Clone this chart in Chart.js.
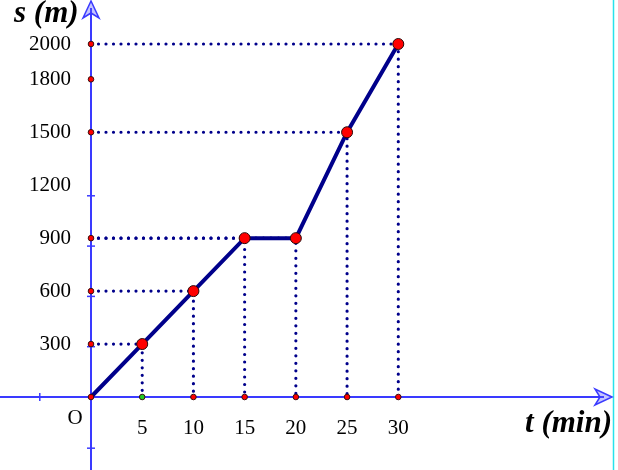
<!DOCTYPE html>
<html><head><meta charset="utf-8">
<script src="https://cdn.jsdelivr.net/npm/chart.js@4"></script>
<style>html,body{margin:0;padding:0;background:#fff}#wrap{width:618px;height:470px}</style>
</head><body><div id="wrap"><canvas id="c" width="618" height="470"></canvas></div>
<script>
// ---- data ----
const times = [0, 5, 10, 15, 20, 25, 30];            // t (min)
const distances = [0, 300, 600, 900, 900, 1500, 2000]; // s (m)
const xTickValues = [5, 10, 15, 20, 25, 30];
const xTickLabels = ['5', '10', '15', '20', '25', '30'];
const yTickValues = [300, 600, 900, 1200, 1500, 1800, 2000];
const yTickLabels = ['300', '600', '900', '1200', '1500', '1800', '2000'];
const yAxisMarks = [300, 600, 900, 1500, 1800, 2000];
const yMinorTicks = [-290, 285, 570, 855, 1140];
const xMinorTicks = [-5];
const xTitle = 't (min)';
const yTitle = 's (m)';
const originLabel = 'O';

// ---- styles ----
const AXIS = 'rgb(58,58,255)';
const NAVY = '#00008B';

const guideSets = [];
for (let i = 1; i < times.length; i++) {
  guideSets.push({
    data: [{x: 0, y: distances[i]}, {x: times[i], y: distances[i]}, {x: times[i], y: 0}],
    showLine: true, pointRadius: 0, borderColor: NAVY, borderWidth: 3.2,
    borderDash: [0, 7.5], borderCapStyle: 'round', order: 2
  });
}
const markPts = times.map(t => ({x: t, y: 0})).concat(yAxisMarks.map(s => ({x: 0, y: s})));

const axesPlugin = {
  id: 'mathAxes',
  beforeDatasetsDraw(chart) {
    const {ctx, scales: {x, y}, width, height} = chart;
    const x0 = x.getPixelForValue(0), y0 = y.getPixelForValue(0);
    ctx.save();
    // right border
    ctx.strokeStyle = 'rgb(40,225,235)'; ctx.lineWidth = 1.5;
    ctx.beginPath(); ctx.moveTo(613.5, 0); ctx.lineTo(613.5, height); ctx.stroke();
    ctx.strokeStyle = AXIS; ctx.lineWidth = 2;
    ctx.beginPath(); ctx.moveTo(0, y0); ctx.lineTo(604, y0); ctx.stroke();
    ctx.beginPath(); ctx.moveTo(x0, height); ctx.lineTo(x0, 8); ctx.stroke();
    ctx.lineWidth = 1.5;
    yMinorTicks.forEach(v => { const p = y.getPixelForValue(v); ctx.beginPath(); ctx.moveTo(x0 - 4, p); ctx.lineTo(x0 + 4, p); ctx.stroke(); });
    xMinorTicks.forEach(v => { const p = x.getPixelForValue(v); ctx.beginPath(); ctx.moveTo(p, y0 - 4); ctx.lineTo(p, y0 + 4); ctx.stroke(); });
    // arrows
    ctx.fillStyle = 'rgba(90,90,255,0.35)'; ctx.lineWidth = 1.5; ctx.lineJoin = 'miter';
    ctx.beginPath(); ctx.moveTo(612, y0); ctx.lineTo(595, y0 - 8); ctx.lineTo(600, y0); ctx.lineTo(595, y0 + 8); ctx.closePath(); ctx.fill(); ctx.stroke();
    ctx.beginPath(); ctx.moveTo(x0, 1); ctx.lineTo(x0 - 8, 18); ctx.lineTo(x0, 13); ctx.lineTo(x0 + 8, 18); ctx.closePath(); ctx.fill(); ctx.stroke();
    ctx.restore();
  },
  afterDatasetsDraw(chart) {
    const {ctx, scales: {x, y}} = chart;
    const x0 = x.getPixelForValue(0);
    ctx.save();
    ctx.fillStyle = '#000';
    ctx.font = '21px "Liberation Serif", "Times New Roman", serif';
    ctx.textBaseline = 'middle';
    ctx.textAlign = 'right';
    yTickValues.forEach((v, i) => ctx.fillText(yTickLabels[i], x0 - 20, y.getPixelForValue(v)));
    ctx.textAlign = 'center';
    xTickValues.forEach((v, i) => ctx.fillText(xTickLabels[i], x.getPixelForValue(v), 428));
    ctx.fillText(originLabel, x0 - 16, 418);
    ctx.font = 'italic bold 31px "Liberation Serif", "Times New Roman", serif';
    ctx.textAlign = 'left';
    ctx.fillText(yTitle, 14, 14);
    ctx.textAlign = 'right';
    ctx.fillText(xTitle, 612, 424);
    ctx.restore();
  }
};

new Chart(document.getElementById('c'), {
  type: 'scatter',
  data: {
    datasets: [
      {
        data: markPts, showLine: false, order: 0,
        pointRadius: 2.8, pointBorderWidth: 1, pointBorderColor: '#3a1010',
        pointBackgroundColor: c => (c.raw && c.raw.x === 5 && c.raw.y === 0) ? '#22cc22' : '#ff0000'
      },
      {
        data: times.map((t, i) => ({x: t, y: distances[i]})), showLine: true, order: 1,
        borderColor: NAVY, borderWidth: 4,
        pointRadius: c => c.dataIndex === 0 ? 0 : 5.5,
        pointBackgroundColor: '#ff0000', pointBorderColor: '#2a0a0a', pointBorderWidth: 1
      },
      ...guideSets
    ]
  },
  options: {
    responsive: false, animation: false, devicePixelRatio: 1,
    layout: {padding: 0, autoPadding: false},
    plugins: {legend: {display: false}, tooltip: {enabled: false}},
    scales: {
      x: {type: 'linear', min: -8.884, max: 51.45, display: false},
      y: {type: 'linear', min: -413.6, max: 2249.3, display: false}
    }
  },
  plugins: [axesPlugin]
});
</script>
</body></html>
